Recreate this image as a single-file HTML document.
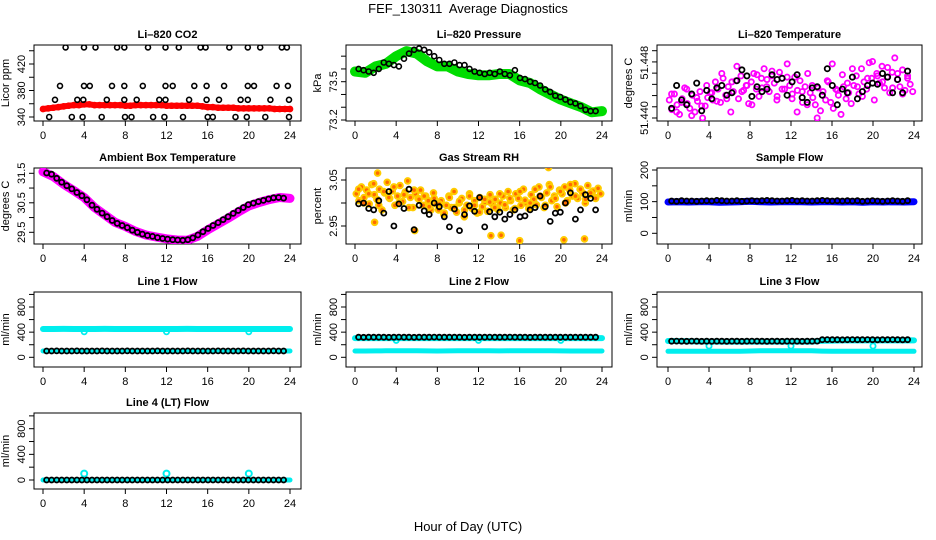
<!DOCTYPE html>
<html><head><meta charset="utf-8">
<style>
html,body{margin:0;padding:0;background:#fff;}
svg{display:block;font-family:"Liberation Sans",sans-serif;}
</style></head>
<body>
<svg id="fig" width="936" height="540" viewBox="0 0 936 540" xmlns="http://www.w3.org/2000/svg">
<text x="468" y="13" text-anchor="middle" font-size="13" style="white-space:pre">FEF_130311  Average Diagnostics</text>
<text x="468" y="531" text-anchor="middle" font-size="13">Hour of Day (UTC)</text>
</svg>
<script>
// ---------- data ----------
const xTicks = [0,4,8,12,16,20,24];
const co2Red = [352,353,354,355,356,357,358,358,359,359,358,358,358,358,358,358,357,357,358,358,358,358,358,358,357,357,357,357,357,357,357,356,355,355,354,354,354,354,353,353,353,353,353,353,353,352,352,352,352];
const co2BlackHours = [2.2,3.98,5.1,7.2,7.9,10.2,11.9,13.2,15.3,15.8,18.1,19.9,21.1,23.2,23.7,
 1.65,3.98,4.55,6.7,7.9,9.7,11.9,12.6,14.7,15.9,17.6,19.9,20.5,22.7,23.8,
 1.17,3.33,3.92,6.2,7.9,9.1,11.3,11.9,14.2,15.9,17.1,19.2,19.9,22.1,23.9,
 0.6,2.8,3.85,5.7,7.97,8.6,10.7,11.8,13.6,16.0,16.5,18.7,19.8,21.6,23.9];
const co2BlackVals = [445,445,445,445,445,445,445,445,445,445,445,445,445,445,445,
 387,387,387,387,387,387,387,387,387,387,387,387,387,387,387,
 366,366,366,366,366,366,366,366,366,366,366,366,366,366,366,
 340,340,340,340,340,340,340,340,340,340,340,340,340,340,340];
const presGreen = [73.58,73.57,73.62,73.64,73.70,73.74,73.72,73.66,73.62,73.62,73.58,73.56,73.55,73.55,73.56,73.56,73.51,73.49,73.44,73.40,73.36,73.33,73.30,73.26,73.27];
const presBlack = [73.60,73.59,73.58,73.57,73.60,73.65,73.64,73.63,73.62,73.68,73.72,73.75,73.76,73.75,73.73,73.70,73.67,73.64,73.64,73.65,73.63,73.63,73.60,73.58,73.57,73.56,73.57,73.56,73.58,73.56,73.55,73.59,73.53,73.52,73.50,73.49,73.47,73.44,73.42,73.39,73.38,73.36,73.34,73.33,73.31,73.28,73.27,73.27];
const tempMagA = [51.4440,51.4432,51.4445,51.4436,51.4428,51.4441,51.4450,51.4437,51.4433,51.4444,51.4430,51.4439,51.4447,51.4425,51.4435,51.4442,
 51.4446,51.4440,51.4455,51.4449,51.4438,51.4458,51.4444,51.4451,51.4430,51.4447,51.4456,51.4441,51.4460,51.4448,51.4452,51.4437,
 51.4455,51.4462,51.4449,51.4443,51.4458,51.4466,51.4451,51.4447,51.4460,51.4454,51.4440,51.4463,51.4458,51.4449,51.4470,51.4452,51.4445,51.4459,51.4448,51.4456,51.4438,51.4451,51.4462,51.4446,
 51.4442,51.4436,51.4450,51.4431,51.4447,51.4440,51.4455,51.4438,51.4433,51.4449,51.4444,51.4428,51.4451,51.4441,51.4446,51.4437,
 51.4452,51.4460,51.4445,51.4466,51.4455,51.4449,51.4471,51.4458,51.4440,51.4462,51.4454,51.4468,51.4450,51.4459,51.4446,51.4463,51.4475,51.4457,51.4451,51.4465,51.4448,51.4460,51.4453,51.4447];
const tempMagB = [51.4445,51.4430,51.4438,51.4449,51.4427,51.4442,51.4435,51.4452,51.4446,51.4439,51.4462,51.4441,51.4455,51.4468,51.4447,51.4452,51.4436,51.4461,51.4450,51.4457,51.4464,51.4443,51.4449,51.4459,51.4441,51.4430,51.4447,51.4436,51.4452,51.4425,51.4444,51.4456,51.4470,51.4448,51.4461,51.4454,51.4466,51.4451,51.4443,51.4458,51.4472,51.4460,51.4455,51.4467,51.4450,51.4462,51.4445,51.4458];
const tempBlack = [51.4433,51.4452,51.4440,51.4436,51.4445,51.4454,51.4431,51.4448,51.4441,51.4450,51.4452,51.4444,51.4446,51.4456,51.4465,51.4460,51.4443,51.4451,51.4447,51.4449,51.4461,51.4457,51.4458,51.4444,51.4455,51.4461,51.4442,51.4438,51.4450,51.4451,51.4444,51.4466,51.4452,51.4436,51.4449,51.4446,51.4459,51.4441,51.4447,51.4452,51.4454,51.4453,51.4462,51.4459,51.4446,51.4457,51.4446,51.4464];
const ambMag = [31.55,31.39,31.13,30.91,30.68,30.34,30.09,29.84,29.70,29.53,29.41,29.34,29.28,29.24,29.23,29.36,29.58,29.78,29.98,30.19,30.39,30.51,30.61,30.68,30.65];
const ambBlack = [31.51,31.47,31.33,31.20,31.08,30.97,30.85,30.74,30.60,30.42,30.28,30.15,30.03,29.90,29.80,29.73,29.66,29.57,29.50,29.44,29.39,29.36,29.32,29.29,29.27,29.25,29.24,29.23,29.25,29.31,29.41,29.52,29.63,29.73,29.83,29.93,30.03,30.14,30.24,30.34,30.44,30.49,30.54,30.58,30.63,30.67,30.68,30.66];
const rhOrangeA = [3.020,3.005,3.035,3.012,3.028,2.998,3.040,3.018,3.008,3.030,2.985,3.022,3.045,3.010,3.026,2.995,3.015,3.038,3.003,3.024,3.048,3.012,2.990,3.020,
 3.010,3.028,2.995,3.015,3.005,2.985,3.022,2.998,
 2.985,3.005,2.975,2.995,3.015,2.990,3.025,2.980,3.000,3.010,2.970,2.995,3.020,2.988,3.005,2.978,3.012,2.992,3.002,2.982,3.018,2.996,3.008,2.986,
 3.000,3.015,2.990,3.025,3.005,2.985,3.020,3.010,2.995,3.030,3.000,2.988,3.018,3.008,2.996,3.035,3.012,2.990,3.022,3.040,3.005,3.015,2.992,3.028,
 3.020,3.035,3.005,3.028,3.015,3.042,3.010,3.030,3.022,3.000,3.038,3.018,3.026,3.012,3.032,3.020];
const rhOrangeB = [3.030,3.000,3.020,3.042,2.995,3.025,3.012,3.035,3.000,3.018,2.990,3.028,3.008,3.015,2.992,3.010,2.998,2.978,3.012,2.990,3.004,2.985,3.015,2.995,2.980,3.008,3.002,2.990,3.020,2.996,3.010,2.988,3.025,3.006,3.000,3.030,3.015,2.995,3.035,3.010,3.025,3.000,3.040,3.015,3.030,3.008,3.022,3.010];
const rhOutlierHours = [2.2,18.8,13.2,14.2,16.0,20.3,22.3,5.8,1.9];
const rhOutlierVals = [3.065,3.077,2.929,2.930,2.918,2.920,2.922,2.940,2.958];
const rhBlack = [2.998,3.000,2.988,2.985,3.005,2.978,3.025,2.950,2.998,2.988,3.030,2.942,2.995,2.983,2.975,3.000,2.992,2.970,2.948,2.987,2.940,2.975,2.994,2.982,3.012,2.948,2.981,2.970,2.980,2.965,2.975,2.985,2.970,2.972,2.985,2.990,3.015,2.992,2.960,2.978,2.980,3.000,3.022,2.965,2.985,3.018,3.010,2.985];
const flowBlue = [99,100,99,100,100,98,99,100,101,100,99,100,100,100,99,100,100,99,100,98,100,99,100,99,100];
const flowBlack = [102,101,103,102,102,101,102,103,102,104,103,102,102,103,101,102,103,102,103,104,103,102,102,103,104,102,103,102,102,103,104,103,102,103,102,103,102,103,101,102,103,102,101,102,103,102,101,103];
const line1CyanHigh = [450,450,452,450,450,450,451,450,450,450,450,450,450,450,451,450,450,450,450,450,450,450,450,450,450];
const line1CyanLow = [100,100,100,100,100,100,100,100,100,100,100,100,100,100,100,100,100,100,100,100,100,100,100,100,100];
const line1Black = [100,100,101,100,100,100,101,100,100,100,100,101,100,100,100,100,101,100,100,100,100,100,101,100,100,100,100,100,101,100,100,100,100,100,101,100,100,100,100,101,100,100,100,100,100,101,100,100];
const line1DipHours = [4,12,20];
const line1DipVals = [405,405,405];
const line2CyanHigh = [305,305,306,305,305,305,305,306,305,305,305,305,305,305,305,305,306,305,305,305,305,305,305,305,305];
const line2CyanLow = [100,100,102,104,105,104,104,102,100,102,104,105,104,104,102,103,104,104,105,104,102,100,100,100,100];
const line2Black = [320,318,320,319,320,320,318,320,321,320,320,318,320,320,320,322,320,319,320,320,320,318,320,320,320,320,321,320,319,320,322,320,320,320,318,320,320,320,319,320,320,320,319,320,320,320,319,320];
const line2DipHours = [4,12,20];
const line2DipVals = [268,268,268];
const line3CyanHigh = [260,258,255,252,252,250,250,250,250,250,250,250,250,250,250,262,265,268,268,268,268,268,268,268,268];
const line3CyanLow = [95,95,95,95,95,95,95,95,100,105,105,105,105,105,105,98,95,95,95,95,95,95,95,95,95];
const line3Black = [256,258,256,255,257,256,254,256,255,256,256,255,256,256,255,256,257,256,256,255,256,256,255,256,256,256,255,256,256,257,280,281,280,280,279,280,281,280,280,281,280,279,280,280,281,280,279,280];
const line3DipHours = [4,12,20];
const line3DipVals = [180,180,180];
const line4Cyan = [0,0,0,0,0,0,0,0,0,0,0,0,0,0,0,0,0,0,0,0,0,0,0,0,0];
const line4Black = [0,0,0,0,0,0,0,0,0,0,0,0,0,0,0,0,0,0,0,0,0,0,0,0,0,0,0,0,0,0,0,0,0,0,0,0,0,0,0,0,0,0,0,0,0,0,0,0];
const line4SpikeHours = [4,12,20];
const line4SpikeVals = [100,100,100];

// hour grids (categories)
const H25=[],H49=[],HB48=[],HQ96=[];
for(let i=0;i<=24;i++)H25.push(i);
for(let i=0;i<=48;i++)H49.push(i/2);
for(let i=0;i<48;i++)HB48.push(0.35+i*0.49);
for(let i=0;i<96;i++)HQ96.push(0.125+i*0.25);

// ---------- drawing ----------
const NS="http://www.w3.org/2000/svg";
const svg=document.getElementById('fig');
function mk(tag,attrs,parent){const e=document.createElementNS(NS,tag);for(const k in attrs)e.setAttribute(k,attrs[k]);(parent||svg).appendChild(e);return e;}
const cols=[{bx0:34,bx1:301,x0:43,x1:290},{bx0:346,bx1:612,x0:355,x1:602},{bx0:657,bx1:922,x0:668,x1:914}];
const rows=[[45,121],[168,244],[292,367],[413,489]];

function makePanel(name,title,ylab,col,row,v0,p0,v1,p1,ticks,labels){
  const c=cols[col],r=rows[row];
  const g=mk('g',{});
  
  
  const sx=h=>c.x0+(c.x1-c.x0)*h/24;
  const sy=v=>p0+(v-v0)*(p1-p0)/(v1-v0);
  const t=mk('text',{x:(c.bx0+c.bx1)/2,y:r[0]-7,'text-anchor':'middle','font-size':11,'font-weight':'bold'},g);
  t.textContent=title;
  
  
  const box=mk('rect',{x:c.bx0,y:r[0],width:c.bx1-c.bx0,height:r[1]-r[0],fill:'none',stroke:'#000','stroke-width':1},g);
  
  
  const xa=mk('g',{},g);
  
  
  mk('line',{x1:sx(0),x2:sx(24),y1:r[1],y2:r[1],stroke:'#000'},xa);
  xTicks.forEach(h=>{
    mk('line',{x1:sx(h),x2:sx(h),y1:r[1],y2:r[1]+5,stroke:'#000'},xa);
    const tl=mk('text',{x:sx(h),y:r[1]+18,'text-anchor':'middle','font-size':11},xa);
    tl.textContent=h;
    
    
  });
  const ya=mk('g',{},g);
  
  
  mk('line',{x1:c.bx0,x2:c.bx0,y1:sy(ticks[0]),y2:sy(ticks[ticks.length-1]),stroke:'#000'},ya);
  ticks.forEach(v=>{mk('line',{x1:c.bx0,x2:c.bx0-5,y1:sy(v),y2:sy(v),stroke:'#000'},ya);});
  labels.forEach(l=>{
    const yy=sy(l[0]);
    const tl=mk('text',{x:c.bx0-9,y:yy,'text-anchor':'middle','font-size':11,transform:`rotate(-90 ${c.bx0-9} ${yy})`},ya);
    tl.textContent=l[1];
    
    
  });
  const yl=mk('text',{x:c.bx0-25,y:(r[0]+r[1])/2,'text-anchor':'middle','font-size':11,transform:`rotate(-90 ${c.bx0-25} ${(r[0]+r[1])/2})`},g);
  yl.textContent=ylab;
  
  
  const clip='clip'+name;
  const cp=mk('clipPath',{id:clip},g);
  mk('rect',{x:c.bx0,y:r[0],width:c.bx1-c.bx0,height:r[1]-r[0]},cp);
  const plot=mk('g',{'clip-path':`url(#${clip})`},g);
  return {sx,sy,plot};
}
function band(P,xs,ys,color,w,name){
  const g=mk('g',{},P.plot);
  
  
  const d=xs.map((h,i)=>(i?'L':'M')+P.sx(h).toFixed(1)+' '+P.sy(ys[i]).toFixed(1)).join(' ');
  mk('path',{d:d,fill:'none',stroke:color,'stroke-width':w,'stroke-linejoin':'round','stroke-linecap':'round'},g);
}
function pts(P,xs,ys,color,name,r,sw,fill){
  const g=mk('g',{},P.plot);
  
  
  xs.forEach((h,i)=>{
    mk('circle',{cx:P.sx(h).toFixed(1),cy:P.sy(ys[i]).toFixed(1),r:r||2.6,fill:fill||'none',stroke:color,'stroke-width':sw||1.6},g);
  });
}
function range(a,b,s){const o=[];for(let v=a;v<=b+1e-9;v+=s)o.push(+v.toFixed(6));return o;}

// Panel 1 CO2
let P=makePanel('co2-panel','Li\u2013820 CO2','Licor ppm',0,0,340,117,420,64,range(340,440,20),[[340,'340'],[380,'380'],[420,'420']]);
band(P,H49,co2Red,'#ff0000',6,'co2-red-series');
pts(P,H49,co2Red,'#ff0000','co2-red-points',2.6,1.5);
pts(P,co2BlackHours,co2BlackVals,'#000','co2-black-points',2.5,1.6);

// Panel 2 pressure
P=makePanel('pressure-panel','Li\u2013820 Pressure','kPa',1,0,73.2,120,73.5,81.7,range(73.2,73.7,0.1),[[73.2,'73.2'],[73.5,'73.5']]);
band(P,H25,presGreen,'#00dd00',10,'pressure-green-series');
pts(P,HB48,presBlack,'#000','pressure-black-points',2.5,1.6);

// Panel 3 temperature
const tTicks=[0,1,2,3,4,5,6].map(k=>51.4425+k*0.000933);
P=makePanel('li820-temperature-panel','Li\u2013820 Temperature','degrees C',2,0,51.4425,118,51.4471,62.7,tTicks,[[51.4425,'51.440'],[51.4471,'51.448']]);
pts(P,HQ96,tempMagA,'#ff00ff','temp-magenta-points-a',2.6,1.8);
pts(P,HB48,tempMagB,'#ff00ff','temp-magenta-points-b',2.6,1.8);
pts(P,HB48,tempBlack,'#000','temp-black-points',2.6,1.8);

// Panel 4 ambient
P=makePanel('ambient-temp-panel','Ambient Box Temperature','degrees C',0,1,29.5,232.3,31.5,173.3,range(29.5,31.5,0.5),[[29.5,'29.5'],[30.5,'30.5'],[31.5,'31.5']]);
band(P,H25,ambMag,'#ff00ff',9,'ambient-magenta-series');
pts(P,HB48,ambBlack,'#000','ambient-black-points',2.5,1.8);

// Panel 5 RH
P=makePanel('rh-panel','Gas Stream RH','percent',1,1,2.95,226,3.05,180,[2.95,3.00,3.05],[[2.95,'2.95'],[3.05,'3.05']]);
pts(P,HQ96,rhOrangeA,'#ffcc00','rh-yellow-points-a',2.8,2,'#ff6a00');
pts(P,HB48,rhOrangeB,'#ffcc00','rh-yellow-points-b',2.8,2,'#ff6a00');
pts(P,rhOutlierHours,rhOutlierVals,'#ffcc00','rh-outlier-points',2.8,2,'#ff6a00');
pts(P,HB48,rhBlack,'#000','rh-black-points',2.5,1.8);

// Panel 6 sample flow
P=makePanel('sample-flow-panel','Sample Flow','ml/min',2,1,0,233.3,200,170,range(0,200,50),[[0,'0'],[100,'100'],[200,'200']]);
band(P,H25,flowBlue,'#0000ff',7,'sample-flow-blue-series');
pts(P,HB48,flowBlack,'#000','sample-flow-black-points',2.5,1.8);

// Panel 7-10 line flows
function flowPanel(name,title,col,row,p0,p1){
  return makePanel(name,title,'ml/min',col,row,0,p0,800,p1,range(0,1000,200),[[0,'0'],[400,'400'],[800,'800']]);
}
P=flowPanel('line1-flow-panel','Line 1 Flow',0,2,357.3,307);
band(P,H25,line1CyanHigh,'#00eeee',6,'line1-cyan-high');
band(P,H25,line1CyanLow,'#00eeee',5,'line1-cyan-low');
pts(P,line1DipHours,line1DipVals,'#00eeee','line1-cyan-dips',2.6,1.8);
pts(P,HB48,line1Black,'#000','line1-black-points',2.5,1.8);

P=flowPanel('line2-flow-panel','Line 2 Flow',1,2,357.3,307);
band(P,H25,line2CyanHigh,'#00eeee',6,'line2-cyan-high');
band(P,H25,line2CyanLow,'#00eeee',5,'line2-cyan-low');
pts(P,line2DipHours,line2DipVals,'#00eeee','line2-cyan-dips',2.6,1.8);
pts(P,HB48,line2Black,'#000','line2-black-points',2.5,1.8);

P=flowPanel('line3-flow-panel','Line 3 Flow',2,2,357.3,307);
band(P,H25,line3CyanHigh,'#00eeee',6,'line3-cyan-high');
band(P,H25,line3CyanLow,'#00eeee',5,'line3-cyan-low');
pts(P,line3DipHours,line3DipVals,'#00eeee','line3-cyan-dips',2.6,1.8);
pts(P,HB48,line3Black,'#000','line3-black-points',2.5,1.8);

P=flowPanel('line4-flow-panel','Line 4 (LT) Flow',0,3,480,428.7);
band(P,H25,line4Cyan,'#00eeee',5,'line4-cyan');
pts(P,line4SpikeHours,line4SpikeVals,'#00eeee','line4-cyan-spikes',3,2);
pts(P,HB48,line4Black,'#000','line4-black-points',2.5,1.8);
</script>
</body></html>
